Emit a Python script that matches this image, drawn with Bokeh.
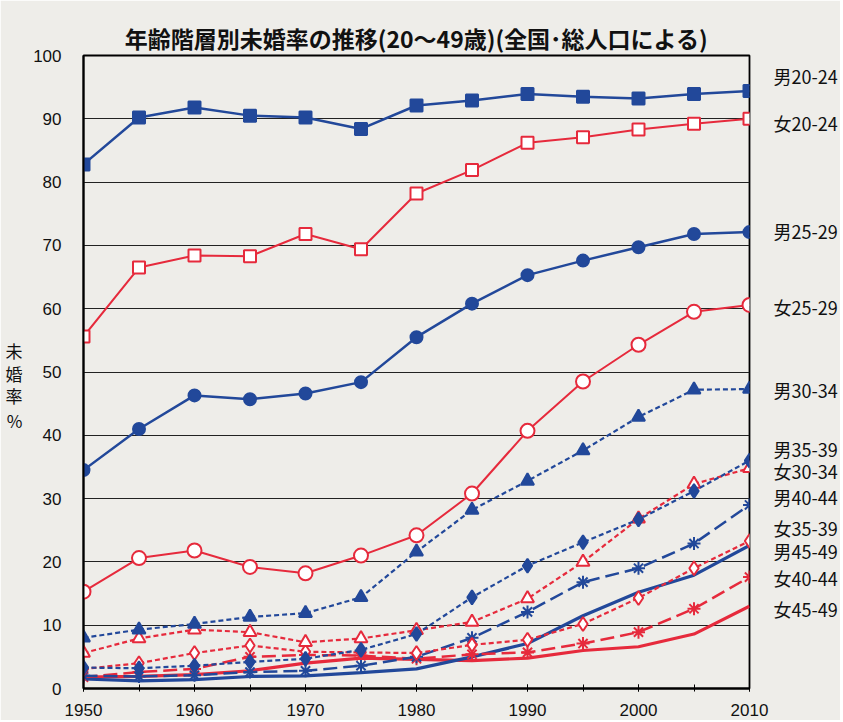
from bokeh.plotting import figure
from bokeh.models import FixedTicker, LinearAxis, CustomJSTickFormatter, Title
from bokeh.embed import file_html
from bokeh.resources import INLINE

years = [1950, 1955, 1960, 1965, 1970, 1975, 1980, 1985, 1990, 1995, 2000, 2005, 2010]

m20 = [82.8, 90.2, 91.8, 90.5, 90.2, 88.4, 92.1, 92.9, 93.9, 93.5, 93.2, 93.9, 94.4]
f20 = [55.6, 66.5, 68.4, 68.3, 71.8, 69.4, 78.2, 81.9, 86.2, 87.1, 88.3, 89.2, 90.0]
m25 = [34.5, 41.0, 46.3, 45.7, 46.6, 48.4, 55.5, 60.8, 65.3, 67.6, 69.7, 71.8, 72.1]
f25 = [15.3, 20.6, 21.8, 19.2, 18.2, 21.0, 24.2, 30.8, 40.7, 48.5, 54.3, 59.5, 60.6]
m30 = [8.0, 9.3, 10.2, 11.3, 11.9, 14.4, 21.6, 28.2, 32.8, 37.6, 42.9, 47.2, 47.3]
f30 = [5.6, 7.9, 9.3, 8.9, 7.3, 7.9, 9.2, 10.5, 14.2, 20.0, 26.8, 32.3, 34.8]
m35 = [3.3, 3.2, 3.6, 4.2, 4.7, 6.1, 8.6, 14.4, 19.4, 23.1, 26.7, 31.2, 36.0]
f35 = [3.1, 4.0, 5.6, 6.8, 5.8, 5.7, 5.6, 6.9, 7.7, 10.2, 14.3, 19.0, 23.3]
m40 = [2.0, 1.9, 2.1, 2.6, 2.8, 3.6, 5.0, 8.0, 12.1, 16.8, 19.0, 22.9, 29.0]
f40 = [1.8, 2.6, 3.1, 5.0, 5.3, 5.2, 4.7, 5.4, 5.7, 7.1, 8.9, 12.6, 17.6]
m45 = [1.5, 1.2, 1.4, 1.9, 2.0, 2.5, 3.1, 5.0, 7.1, 11.5, 15.2, 17.9, 22.6]
f45 = [1.8, 1.9, 2.2, 2.8, 4.0, 4.8, 4.6, 4.4, 4.8, 6.0, 6.6, 8.6, 13.0]

series_names = ["男20-24", "女20-24", "男25-29", "女25-29", "男30-34", "男35-39",
                "女30-34", "男40-44", "女35-39", "男45-49", "女40-44", "女45-49"]
label_y = [96.8, 89.4, 72.2, 60.2, 47.2, 37.9, 34.4, 30.2, 25.3, 21.8, 17.4, 12.6]

ylab_chars = ["未", "婚", "率", "%"]
ylab_pos = [53.4, 49.8, 46.3, 42.3]

title_text = "年齢階層別未婚率の推移(20～49歳)(全国･総人口による)"

y_ticks = [0, 10, 20, 30, 40, 50, 60, 70, 80, 90, 100]
x_ticks = [1950, 1960, 1970, 1980, 1990, 2000, 2010]

BLUE = "#22489a"
RED = "#e62a3c"
BG = "#eeede9"

p = figure(width=840, height=720, x_range=(1950, 2010), y_range=(0, 100),
           output_backend="svg", toolbar_location=None,
           min_border_left=83, min_border_right=90, min_border_top=55, min_border_bottom=32)
p.background_fill_color = BG
p.border_fill_color = BG
p.outline_line_color = "black"
p.outline_line_width = 1.8

# built-in title left empty: it only acts as a spacer next to the frame
p.title.text = ""
p.title.text_font_size = "1px"
p.title.standoff = 18

# the visible title, stacked above the spacer
p.add_layout(Title(text=title_text, align="center", text_font="Noto Sans CJK JP",
                   text_font_size="23px", text_font_style="bold",
                   text_color="#111111", standoff=2), "above")

p.xgrid.grid_line_color = None
p.ygrid.ticker = FixedTicker(ticks=y_ticks)
p.ygrid.grid_line_color = "#222222"
p.ygrid.grid_line_width = 1.2

p.yaxis.ticker = FixedTicker(ticks=y_ticks)
p.xaxis.ticker = FixedTicker(ticks=x_ticks, minor_ticks=years)
for ax in (p.xaxis[0], p.yaxis[0]):
    ax.axis_line_color = "black"
    ax.axis_line_width = 2
    ax.major_tick_line_color = None
    ax.minor_tick_line_color = None
    ax.major_label_text_font = "Liberation Sans"
    ax.major_label_text_font_size = "17px"
    ax.major_label_text_color = "#111111"
p.xaxis.major_tick_line_color = "black"
p.xaxis.major_tick_in = 4
p.xaxis.major_tick_out = 3
p.xaxis.minor_tick_line_color = "black"
p.xaxis.minor_tick_in = 4
p.xaxis.minor_tick_out = 3
p.xaxis.major_label_standoff = 12
p.yaxis.major_label_standoff = 16

fmt_code = "const i = vals.findIndex(v => Math.abs(v - tick) < 1e-6); return i >= 0 ? names[i] : '';"

# series labels on the right, as an axis whose ticks sit at the label heights
right = LinearAxis(ticker=FixedTicker(ticks=label_y),
                   formatter=CustomJSTickFormatter(
                       args=dict(vals=label_y, names=series_names), code=fmt_code))
right.axis_line_color = None
right.major_tick_line_color = None
right.minor_tick_line_color = None
right.major_label_standoff = 18
right.major_label_text_font = "Noto Sans CJK JP"
right.major_label_text_font_size = "18px"
right.major_label_text_color = "#111111"
p.add_layout(right, "right")

# vertical y-axis title
left2 = LinearAxis(ticker=FixedTicker(ticks=ylab_pos),
                   formatter=CustomJSTickFormatter(
                       args=dict(vals=ylab_pos, names=ylab_chars), code=fmt_code))
left2.axis_line_color = None
left2.major_tick_line_color = None
left2.minor_tick_line_color = None
left2.major_label_standoff = 2
left2.major_label_text_font = "Noto Sans CJK JP"
left2.major_label_text_font_size = "17px"
left2.major_label_text_color = "#111111"
p.add_layout(left2, "left")

SHORT = "5 3"
LONG = "14 6"

specs = [
    (m20, BLUE, "solid", 2.5, "square", 12, BLUE),
    (f20, RED, "solid", 2, "square", 12, "white"),
    (m25, BLUE, "solid", 2.5, "circle", 12, BLUE),
    (f25, RED, "solid", 2, "circle", 14, "white"),
    (m30, BLUE, SHORT, 2.2, "triangle", 13, BLUE),
    (m35, BLUE, SHORT, 2.2, "diamond", 14, BLUE),
    (f30, RED, SHORT, 2.2, "triangle", 13, "white"),
    (m40, BLUE, LONG, 2.5, "asterisk", 13, BLUE),
    (f35, RED, SHORT, 2.2, "diamond", 14, "white"),
    (m45, BLUE, "solid", 3.2, None, 0, None),
    (f40, RED, LONG, 2.5, "asterisk", 13, RED),
    (f45, RED, "solid", 3.2, None, 0, None),
]

draw_order = [11, 9, 10, 7, 8, 6, 5, 4, 3, 2, 1, 0]
for i in draw_order:
    vals, col, dash, lw, mk, ms, fill = specs[i]
    p.line(years, vals, line_color=col, line_width=lw, line_dash=dash)
    if mk is not None:
        p.scatter(years, vals, marker=mk, size=ms, line_color=col,
                  fill_color=fill, line_width=2)

open("out.html", "w").write(file_html(p, INLINE))
